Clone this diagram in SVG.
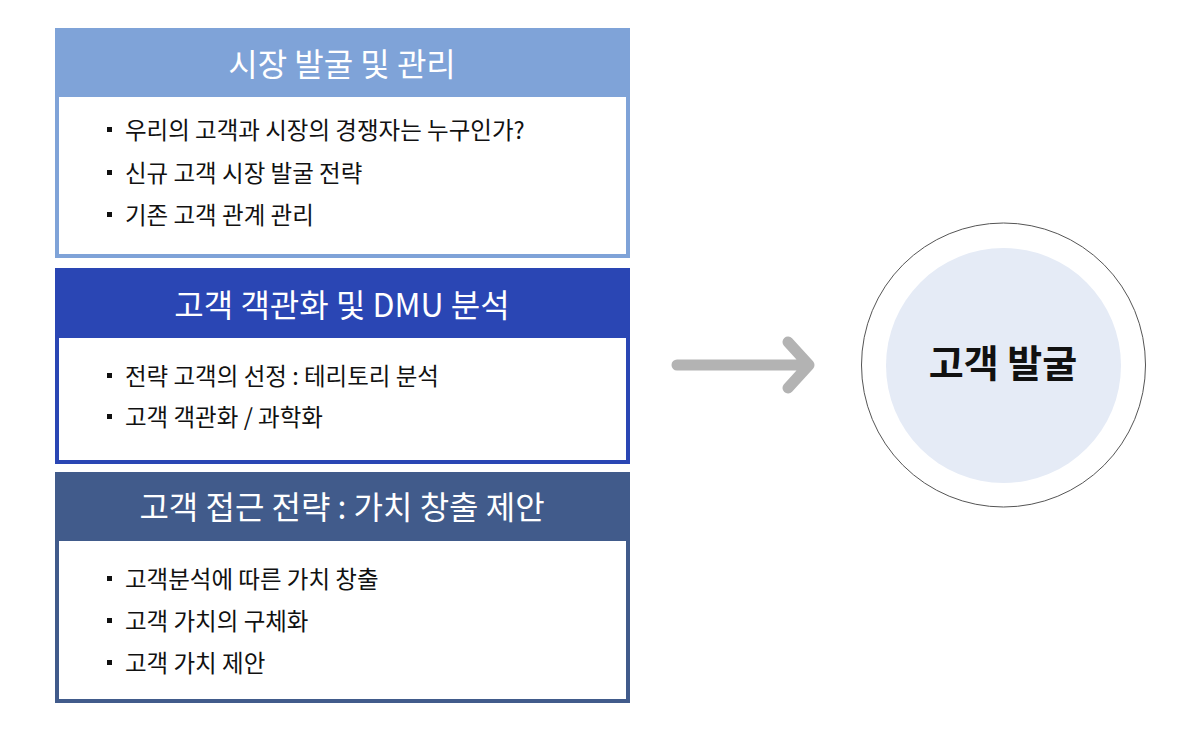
<svg xmlns="http://www.w3.org/2000/svg" width="1200" height="731" viewBox="0 0 1200 731">
<style>
.hdr{font-family:"Noto Sans CJK KR","Noto Sans",sans-serif;font-size:32px;fill:#ffffff;text-anchor:middle}
.itm{font-family:"Noto Sans CJK KR","Noto Sans",sans-serif;font-size:23.5px;fill:#111111}
.bul{fill:#111111}
.body{fill:#ffffff}
</style>
<rect width="1200" height="731" fill="#ffffff"/>
<g id="box1">
<rect x="55" y="28" width="575" height="230" fill="#7FA3D8"/>
<rect class="body" x="59" y="97" width="567" height="157"/>
<text class="hdr" x="342" y="76">시장 발굴 및 관리</text>
<rect class="bul" x="107" y="127" width="5" height="5"/>
<text class="itm" x="125" y="139">우리의 고객과 시장의 경쟁자는 누구인가?</text>
<rect class="bul" x="107" y="170" width="5" height="5"/>
<text class="itm" x="125" y="182">신규 고객 시장 발굴 전략</text>
<rect class="bul" x="107" y="212" width="5" height="5"/>
<text class="itm" x="125" y="224">기존 고객 관계 관리</text>
</g>
<g id="box2">
<rect x="55" y="268" width="575" height="196" fill="#2A46B4"/>
<rect class="body" x="59" y="338" width="567" height="122"/>
<text class="hdr" x="342" y="317">고객 객관화 및 DMU 분석</text>
<rect class="bul" x="107" y="373" width="5" height="5"/>
<text class="itm" x="125" y="385">전략 고객의 선정 : 테리토리 분석</text>
<rect class="bul" x="107" y="414" width="5" height="5"/>
<text class="itm" x="125" y="426">고객 객관화 / 과학화</text>
</g>
<g id="box3">
<rect x="55" y="472" width="575" height="231" fill="#415B8B"/>
<rect class="body" x="59" y="541" width="567" height="158"/>
<text class="hdr" x="342" y="519">고객 접근 전략 : 가치 창출 제안</text>
<rect class="bul" x="107" y="576" width="5" height="5"/>
<text class="itm" x="125" y="588">고객분석에 따른 가치 창출</text>
<rect class="bul" x="107" y="618" width="5" height="5"/>
<text class="itm" x="125" y="630">고객 가치의 구체화</text>
<rect class="bul" x="107" y="660" width="5" height="5"/>
<text class="itm" x="125" y="672">고객 가치 제안</text>
</g>
<g id="connectors">
<path d="M677 365 H807 M788 342 L809 365 L788 388" fill="none" stroke="#B3B3B3" stroke-width="11" stroke-linecap="round" stroke-linejoin="round"/>
</g>
<g id="goal">
<circle cx="1003.5" cy="365" r="142" fill="#ffffff" stroke="#555555" stroke-width="1"/>
<circle cx="1003.5" cy="365.5" r="117.5" fill="#E5EBF6"/>
<text x="1003" y="377" font-family="'Noto Sans CJK KR','Noto Sans',sans-serif" font-size="38" font-weight="bold" fill="#111111" text-anchor="middle">고객 발굴</text>
</g>
</svg>
